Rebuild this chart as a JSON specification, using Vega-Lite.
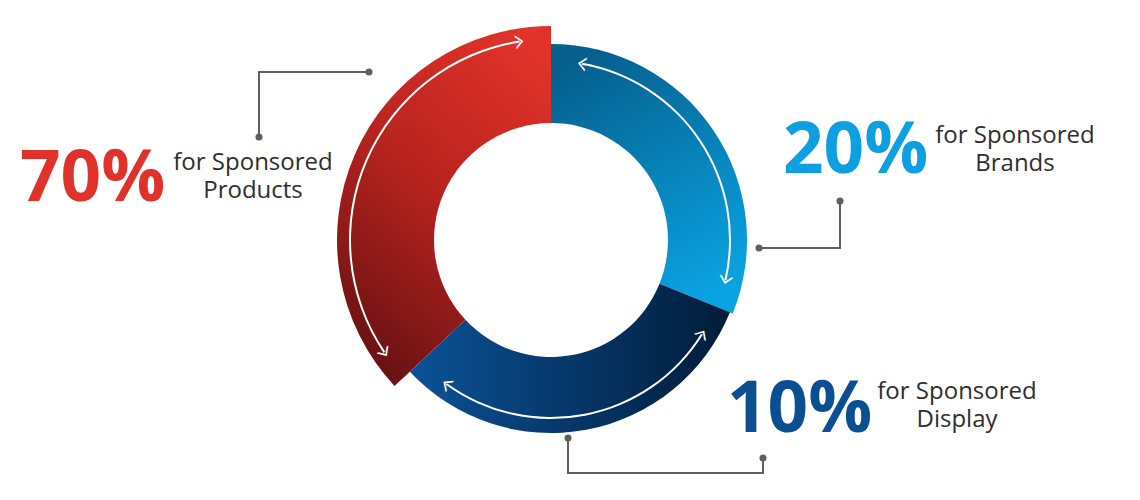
{
  "$schema": "https://vega.github.io/schema/vega-lite/v6.json",
  "width": 1102,
  "height": 480,
  "padding": 0,
  "autosize": "none",
  "background": "white",
  "config": {"view": {"stroke": null}},
  "datasets": {
    "segments": [
      {"segment": "Sponsored Brands", "share": 20, "from": 0, "to": 112, "arrowFrom": 10, "arrowTo": 103},
      {"segment": "Sponsored Display", "share": 10, "from": 112, "to": 227, "arrowFrom": 122, "arrowTo": 216},
      {"segment": "Sponsored Products", "share": 70, "from": 227, "to": 360, "arrowFrom": 236, "arrowTo": 351}
    ],
    "leaders": [
      {"segment": "Sponsored Products", "seq": 1, "node": "end", "x": 369, "y": 72},
      {"segment": "Sponsored Products", "seq": 2, "node": "corner", "x": 259, "y": 72},
      {"segment": "Sponsored Products", "seq": 3, "node": "end", "x": 259, "y": 137},
      {"segment": "Sponsored Brands", "seq": 1, "node": "end", "x": 840, "y": 201},
      {"segment": "Sponsored Brands", "seq": 2, "node": "corner", "x": 840, "y": 248},
      {"segment": "Sponsored Brands", "seq": 3, "node": "end", "x": 759, "y": 248},
      {"segment": "Sponsored Display", "seq": 1, "node": "end", "x": 568, "y": 438},
      {"segment": "Sponsored Display", "seq": 2, "node": "corner", "x": 568, "y": 473},
      {"segment": "Sponsored Display", "seq": 3, "node": "corner", "x": 763, "y": 473},
      {"segment": "Sponsored Display", "seq": 4, "node": "end", "x": 763, "y": 458}
    ],
    "labels": [
      {"segment": "Sponsored Products", "kind": "pct", "text": "70%", "x": 20, "y": 201},
      {"segment": "Sponsored Products", "kind": "desc", "text": "for Sponsored\nProducts", "x": 253, "y": 170},
      {"segment": "Sponsored Brands", "kind": "pct", "text": "20%", "x": 783, "y": 173},
      {"segment": "Sponsored Brands", "kind": "desc", "text": "for Sponsored\nBrands", "x": 1015, "y": 143},
      {"segment": "Sponsored Display", "kind": "pct", "text": "10%", "x": 727, "y": 432},
      {"segment": "Sponsored Display", "kind": "desc", "text": "for Sponsored\nDisplay", "x": 957, "y": 399}
    ]
  },
  "layer": [
    {
      "data": {"name": "segments"},
      "transform": [{"filter": "datum.segment === 'Sponsored Brands'"}],
      "mark": {"type": "arc", "innerRadius": 117, "outerRadius": 196,
        "fill": {"gradient": "linear", "x1": 0.3, "y1": 0, "x2": 0.7, "y2": 1,
          "stops": [{"offset": 0, "color": "#05608e"}, {"offset": 1, "color": "#0aa4e3"}]}},
      "encoding": {
        "theta": {"field": "from", "type": "quantitative", "stack": null, "scale": {"type": "linear", "domain": [0, 360], "range": [0, 6.283185307179586]}},
        "theta2": {"field": "to"}
      }
    },
    {
      "data": {"name": "segments"},
      "transform": [{"filter": "datum.segment === 'Sponsored Display'"}],
      "mark": {"type": "arc", "innerRadius": 117, "outerRadius": 193,
        "fill": {"gradient": "linear", "x1": 0, "y1": 0.5, "x2": 1, "y2": 0.5,
          "stops": [{"offset": 0, "color": "#0b5296"}, {"offset": 0.5, "color": "#063769"}, {"offset": 1, "color": "#021c38"}]}},
      "encoding": {
        "theta": {"field": "from", "type": "quantitative", "stack": null, "scale": {"type": "linear", "domain": [0, 360], "range": [0, 6.283185307179586]}},
        "theta2": {"field": "to"}
      }
    },
    {
      "data": {"name": "segments"},
      "transform": [{"filter": "datum.segment === 'Sponsored Products'"}],
      "mark": {"type": "arc", "innerRadius": 117, "outerRadius": 214,
        "fill": {"gradient": "linear", "x1": 0.8, "y1": 0, "x2": 0.3, "y2": 1,
          "stops": [{"offset": 0, "color": "#e1332a"}, {"offset": 0.5, "color": "#b7231e"}, {"offset": 1, "color": "#6a1213"}]}},
      "encoding": {
        "theta": {"field": "from", "type": "quantitative", "stack": null, "scale": {"type": "linear", "domain": [0, 360], "range": [0, 6.283185307179586]}},
        "theta2": {"field": "to"}
      }
    },
    {
      "data": {"name": "segments"},
      "transform": [{"filter": "datum.segment === 'Sponsored Brands'"}],
      "layer": [
        {"mark": {"type": "arc", "innerRadius": 178, "outerRadius": 180, "fill": "white"},
         "encoding": {"theta": {"field": "arrowFrom", "type": "quantitative", "stack": null, "scale": {"type": "linear", "domain": [0, 360], "range": [0, 6.283185307179586]}}, "theta2": {"field": "arrowTo"}}},
        {"mark": {"type": "text", "radius": 179, "text": "‹", "font": "DejaVu Sans", "fontWeight": 200, "fontSize": 34, "fill": "white", "align": "center", "baseline": "middle"},
         "encoding": {"theta": {"field": "arrowFrom", "type": "quantitative", "scale": {"type": "linear", "domain": [0, 360], "range": [0, 6.283185307179586]}},
           "angle": {"field": "arrowFrom", "type": "quantitative", "scale": {"domain": [0, 360], "range": [0, 360]}}}},
        {"mark": {"type": "text", "radius": 179, "text": "›", "font": "DejaVu Sans", "fontWeight": 200, "fontSize": 34, "fill": "white", "align": "center", "baseline": "middle"},
         "encoding": {"theta": {"field": "arrowTo", "type": "quantitative", "scale": {"type": "linear", "domain": [0, 360], "range": [0, 6.283185307179586]}},
           "angle": {"field": "arrowTo", "type": "quantitative", "scale": {"domain": [0, 360], "range": [0, 360]}}}}
      ]
    },
    {
      "data": {"name": "segments"},
      "transform": [{"filter": "datum.segment === 'Sponsored Display'"}],
      "layer": [
        {"mark": {"type": "arc", "innerRadius": 177, "outerRadius": 179, "fill": "white"},
         "encoding": {"theta": {"field": "arrowFrom", "type": "quantitative", "stack": null, "scale": {"type": "linear", "domain": [0, 360], "range": [0, 6.283185307179586]}}, "theta2": {"field": "arrowTo"}}},
        {"mark": {"type": "text", "radius": 178, "text": "‹", "font": "DejaVu Sans", "fontWeight": 200, "fontSize": 34, "fill": "white", "align": "center", "baseline": "middle"},
         "encoding": {"theta": {"field": "arrowFrom", "type": "quantitative", "scale": {"type": "linear", "domain": [0, 360], "range": [0, 6.283185307179586]}},
           "angle": {"field": "arrowFrom", "type": "quantitative", "scale": {"domain": [0, 360], "range": [0, 360]}}}},
        {"mark": {"type": "text", "radius": 178, "text": "›", "font": "DejaVu Sans", "fontWeight": 200, "fontSize": 34, "fill": "white", "align": "center", "baseline": "middle"},
         "encoding": {"theta": {"field": "arrowTo", "type": "quantitative", "scale": {"type": "linear", "domain": [0, 360], "range": [0, 6.283185307179586]}},
           "angle": {"field": "arrowTo", "type": "quantitative", "scale": {"domain": [0, 360], "range": [0, 360]}}}}
      ]
    },
    {
      "data": {"name": "segments"},
      "transform": [{"filter": "datum.segment === 'Sponsored Products'"}],
      "layer": [
        {"mark": {"type": "arc", "innerRadius": 200, "outerRadius": 202, "fill": "white"},
         "encoding": {"theta": {"field": "arrowFrom", "type": "quantitative", "stack": null, "scale": {"type": "linear", "domain": [0, 360], "range": [0, 6.283185307179586]}}, "theta2": {"field": "arrowTo"}}},
        {"mark": {"type": "text", "radius": 201, "text": "‹", "font": "DejaVu Sans", "fontWeight": 200, "fontSize": 34, "fill": "white", "align": "center", "baseline": "middle"},
         "encoding": {"theta": {"field": "arrowFrom", "type": "quantitative", "scale": {"type": "linear", "domain": [0, 360], "range": [0, 6.283185307179586]}},
           "angle": {"field": "arrowFrom", "type": "quantitative", "scale": {"domain": [0, 360], "range": [0, 360]}}}},
        {"mark": {"type": "text", "radius": 201, "text": "›", "font": "DejaVu Sans", "fontWeight": 200, "fontSize": 34, "fill": "white", "align": "center", "baseline": "middle"},
         "encoding": {"theta": {"field": "arrowTo", "type": "quantitative", "scale": {"type": "linear", "domain": [0, 360], "range": [0, 6.283185307179586]}},
           "angle": {"field": "arrowTo", "type": "quantitative", "scale": {"domain": [0, 360], "range": [0, 360]}}}}
      ]
    },
    {
      "data": {"name": "leaders"},
      "mark": {"type": "line", "color": "#5f5f5f", "strokeWidth": 2, "interpolate": "linear"},
      "encoding": {
        "x": {"field": "x", "type": "quantitative", "axis": null, "scale": {"domain": [0, 1102], "nice": false, "zero": false}},
        "y": {"field": "y", "type": "quantitative", "axis": null, "scale": {"domain": [0, 480], "nice": false, "zero": false, "reverse": true}},
        "detail": {"field": "segment"},
        "order": {"field": "seq"}
      }
    },
    {
      "data": {"name": "leaders"},
      "transform": [{"filter": "datum.node === 'end'"}],
      "mark": {"type": "point", "shape": "circle", "filled": true, "size": 50, "color": "#5f5f5f", "opacity": 1},
      "encoding": {
        "x": {"field": "x", "type": "quantitative"},
        "y": {"field": "y", "type": "quantitative"}
      }
    },
    {
      "data": {"name": "labels"},
      "transform": [{"filter": "datum.kind === 'pct'"}],
      "mark": {"type": "text", "font": "Open Sans", "fontWeight": "bold", "fontSize": 71, "align": "left", "baseline": "alphabetic"},
      "encoding": {
        "x": {"field": "x", "type": "quantitative"},
        "y": {"field": "y", "type": "quantitative"},
        "text": {"field": "text"},
        "color": {"field": "segment", "type": "nominal", "legend": null,
          "scale": {"domain": ["Sponsored Products", "Sponsored Brands", "Sponsored Display"], "range": ["#e0312a", "#0d9fe1", "#0b4f93"]}}
      }
    },
    {
      "data": {"name": "labels"},
      "transform": [{"filter": "datum.kind === 'desc'"}],
      "mark": {"type": "text", "font": "Open Sans", "fontSize": 24, "align": "center", "baseline": "alphabetic", "color": "#2e2e2e", "lineBreak": "\n", "lineHeight": 28},
      "encoding": {
        "x": {"field": "x", "type": "quantitative"},
        "y": {"field": "y", "type": "quantitative"},
        "text": {"field": "text"}
      }
    }
  ]
}
